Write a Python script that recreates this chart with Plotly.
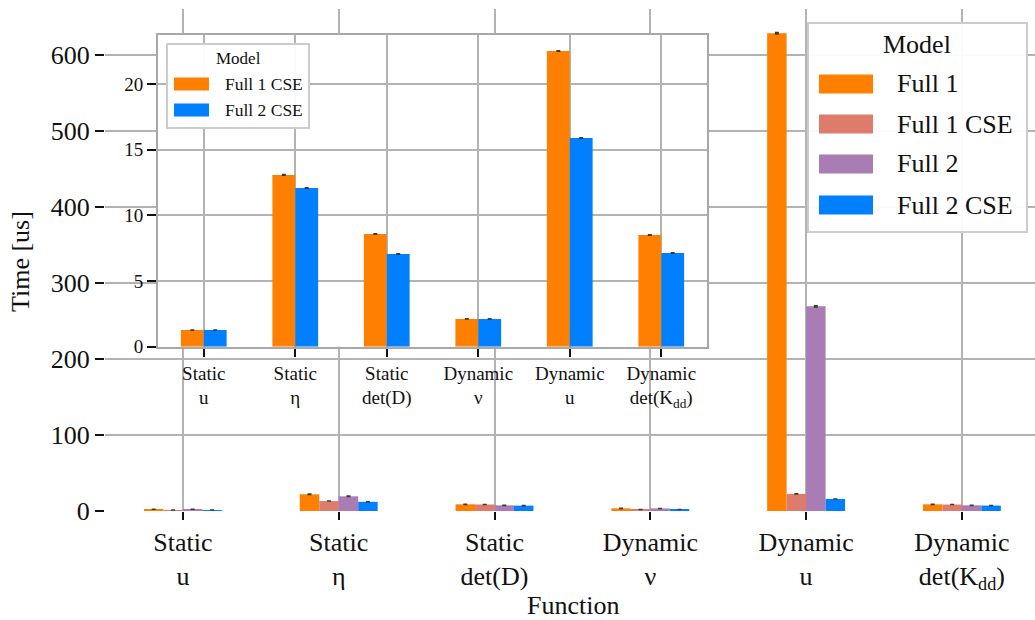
import plotly.graph_objects as go

# ---- data -------------------------------------------------------------
functions = [
    "Static<br>u",
    "Static<br>η",
    "Static<br>det(D)",
    "Dynamic<br>ν",
    "Dynamic<br>u",
    "Dynamic<br>det(K<sub>dd</sub>)",
]
models = ["Full 1", "Full 1 CSE", "Full 2", "Full 2 CSE"]

full1 = [2.4, 22.0, 8.8, 3.5, 628.6, 8.8]
full1_cse = [1.27, 13.07, 8.58, 2.11, 22.5, 8.5]
full2 = [2.3, 19.3, 7.5, 3.4, 269.3, 7.5]
full2_cse = [1.27, 12.08, 7.05, 2.11, 15.88, 7.13]

full1_err = [0.05, 0.3, 0.1, 0.05, 0.9, 0.1]
full1_cse_err = [0.02, 0.05, 0.03, 0.02, 0.05, 0.03]
full2_err = [0.05, 0.3, 0.1, 0.05, 0.8, 0.1]
full2_cse_err = [0.02, 0.05, 0.03, 0.02, 0.05, 0.03]

colors = {
    "Full 1": "#ff8000",
    "Full 1 CSE": "#de7c6c",
    "Full 2": "#a97cb3",
    "Full 2 CSE": "#0080ff",
}
# the inset uses its own two-colour palette
inset_colors = {
    "Full 1 CSE": "#ff8000",
    "Full 2 CSE": "#0080ff",
}

series = {
    "Full 1": (full1, full1_err),
    "Full 1 CSE": (full1_cse, full1_cse_err),
    "Full 2": (full2, full2_err),
    "Full 2 CSE": (full2_cse, full2_cse_err),
}
inset_models = ["Full 1 CSE", "Full 2 CSE"]

# ---- layout geometry (pixels) -----------------------------------------
W, H = 1035, 620
L, R, T, B = 105, 1035, 9, 511
FONT = "Liberation Serif"
GRID = "#b3b3b3"


def px(x):
    return (x - L) / (R - L)


def py(y):
    return (B - y) / (B - T)


x_idx = list(range(len(functions)))
fig = go.Figure()

# main grouped bars
n = len(models)
bw = 0.5 / n
for i, m in enumerate(models):
    vals, err = series[m]
    fig.add_trace(go.Bar(
        x=x_idx, y=vals, name=m, width=bw, offset=-0.25 + i * bw,
        marker=dict(color=colors[m], line=dict(width=0)),
        error_y=dict(type="data", array=err, color="#3a3a3a",
                     thickness=1.5, width=2),
        xaxis="x", yaxis="y", showlegend=False,
    ))

# inset: CSE variants only
bw2 = 0.5 / len(inset_models)
for i, m in enumerate(inset_models):
    vals, err = series[m]
    fig.add_trace(go.Bar(
        x=x_idx, y=vals, name=m, width=bw2, offset=-0.25 + i * bw2,
        marker=dict(color=inset_colors[m], line=dict(width=0)),
        error_y=dict(type="data", array=[e * 0.5 for e in err],
                     color="#3a3a3a", thickness=1.5, width=2),
        xaxis="x2", yaxis="y2", showlegend=False,
    ))

axis_common = dict(
    showgrid=True, gridcolor=GRID, gridwidth=1.8, zeroline=False,
    ticks="outside", tickcolor="#111111", tickwidth=2,
)

fig.update_layout(
    width=W, height=H,
    margin=dict(l=L, r=W - R, t=T, b=H - B),
    paper_bgcolor="white", plot_bgcolor="white",
    barmode="overlay",
    font=dict(family=FONT, color="#111111"),
    xaxis=dict(
        **axis_common, domain=[0, 1],
        range=[-0.5, -0.5 + (R - L) / 155.8],
        tickmode="array", tickvals=x_idx, ticktext=functions,
        ticklen=8, tickangle=0, tickfont=dict(size=26),
        showline=False,
    ),
    yaxis=dict(
        **axis_common, domain=[0, 1], range=[0, 660.5],
        tickvals=[0, 100, 200, 300, 400, 500, 600],
        ticklen=9, tickfont=dict(size=26), showline=False,
    ),
    xaxis2=dict(
        **axis_common, anchor="y2",
        domain=[px(158), px(707)], range=[-0.5, 5.5],
        tickmode="array", tickvals=x_idx, ticktext=functions,
        ticklen=8, tickangle=0, tickfont=dict(size=19),
        showline=True, linecolor="#a8a8a8", linewidth=2, mirror=True,
    ),
    yaxis2=dict(
        **axis_common, anchor="x2",
        domain=[py(346.7), py(35)], range=[0, 23.72],
        tickvals=[0, 5, 10, 15, 20],
        ticklen=9, tickfont=dict(size=19),
        showline=True, linecolor="#a8a8a8", linewidth=2, mirror=True,
    ),
)

shapes = []
annotations = []

# axis titles
annotations.append(dict(
    text="Time [us]", xref="paper", yref="paper",
    x=px(20), y=py(262), textangle=-90, showarrow=False,
    xanchor="center", yanchor="middle", font=dict(size=26),
))
annotations.append(dict(
    text="Function", xref="paper", yref="paper",
    x=px(572.5), y=py(605), showarrow=False,
    xanchor="center", yanchor="middle", font=dict(size=26),
))


def draw_legend(box, title_xy, items, palette, sw_x, sw_h, text_x,
                tsize, esize):
    x0, y0, x1, y1 = box
    shapes.append(dict(
        type="rect", xref="paper", yref="paper", layer="above",
        x0=px(x0), x1=px(x1), y0=py(y1), y1=py(y0),
        fillcolor="rgba(255,255,255,0.95)",
        line=dict(color="#cccccc", width=2),
    ))
    annotations.append(dict(
        text="Model", xref="paper", yref="paper",
        x=px(title_xy[0]), y=py(title_xy[1]), showarrow=False,
        xanchor="center", yanchor="middle", font=dict(size=tsize),
    ))
    for name, yc in items:
        shapes.append(dict(
            type="rect", xref="paper", yref="paper", layer="above",
            x0=px(sw_x[0]), x1=px(sw_x[1]),
            y0=py(yc + sw_h / 2), y1=py(yc - sw_h / 2),
            fillcolor=palette[name], line=dict(width=0),
        ))
        annotations.append(dict(
            text=name, xref="paper", yref="paper",
            x=px(text_x), y=py(yc), showarrow=False,
            xanchor="left", yanchor="middle", font=dict(size=esize),
        ))


draw_legend((808, 23, 1027, 232), (917, 44),
            list(zip(models, [84, 124, 164, 205])), colors,
            (819, 873), 19, 895, 26, 26)
draw_legend((167, 44, 309, 128), (238, 58),
            list(zip(inset_models, [84, 110])), inset_colors,
            (174, 209), 13, 223, 17, 17.5)

fig.update_layout(shapes=shapes, annotations=annotations)

fig.write_html("out.html")
